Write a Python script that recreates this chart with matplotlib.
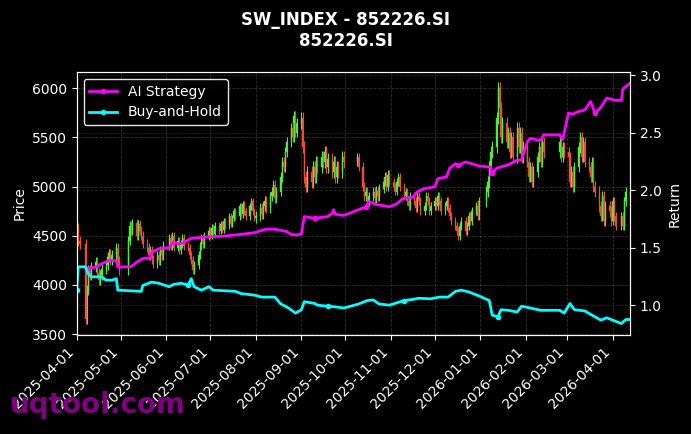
import matplotlib
matplotlib.use("Agg")
import matplotlib.pyplot as plt
import matplotlib.dates as mdates
import pandas as pd
import numpy as np

# ---------------- data ----------------
holidays = ["2025-04-04", "2025-05-01", "2025-05-02", "2025-05-05", "2025-06-02",
            "2025-10-01", "2025-10-02", "2025-10-03", "2025-10-06", "2025-10-07", "2025-10-08",
            "2026-01-01", "2026-01-02", "2026-02-16", "2026-02-17", "2026-02-18",
            "2026-02-19", "2026-02-20", "2026-02-23", "2026-04-06"]

close_2025_04 = [4580, 4450, 4420, 3650, 3950, 4150, 4100, 4180, 4230, 4120, 4050, 4100, 4160,
                 4200, 4280, 4320, 4250, 4300, 4380, 4240, 4150]
close_2025_05 = [4450, 4600, 4550, 4630, 4500, 4620, 4550, 4500, 4420, 4380, 4300, 4350, 4260,
                 4220, 4300, 4250, 4350, 4300, 4400]
close_2025_06 = [4480, 4400, 4500, 4380, 4450, 4350, 4420, 4480, 4400, 4380, 4300, 4250, 4150,
                 4200, 4300, 4400, 4480, 4420, 4500, 4550]
close_2025_07 = [4500, 4580, 4520, 4600, 4550, 4620, 4560, 4650, 4600, 4700, 4620, 4680, 4750,
                 4700, 4800, 4720, 4820, 4750, 4700, 4800, 4850, 4750, 4680]
close_2025_08 = [4700, 4780, 4720, 4800, 4850, 4780, 4900, 4950, 5020, 4880, 4950, 5100, 5250,
                 5200, 5350, 5450, 5600, 5500, 5720, 5550, 5650]
close_2025_09 = [5700, 5400, 5100, 5000, 5150, 5050, 5200, 5100, 5250, 5200, 5300, 5250, 5350,
                 5200, 5280, 5150, 5250, 5100, 5200, 5150, 5300, 5250]
close_2025_10 = [5300, 5200, 5000, 4900, 4950, 4850, 4900, 4950, 4880, 4960, 4900, 4980, 5050,
                 5100, 5000, 5120, 5050]
close_2025_11 = [5000, 4950, 5050, 5100, 5000, 4900, 4950, 4850, 4800, 4900, 4850, 4780, 4900,
                 4850, 4750, 4800, 4900, 4850, 4750, 4800]
close_2025_12 = [4850, 4800, 4900, 4850, 4750, 4800, 4850, 4780, 4700, 4650, 4600, 4550, 4500,
                 4600, 4650, 4550, 4600, 4700, 4650, 4750, 4800, 4700, 4850]
close_2026_01 = [4950, 5050, 5200, 5350, 5400, 5700, 6000, 5800, 5500, 5650, 5450, 5550, 5350,
                 5500, 5300, 5600, 5400, 5550, 5300, 5400]
close_2026_02 = [5250, 5100, 5200, 5050, 5150, 5300, 5400, 5250, 5450, 5350, 5450, 5300, 5400, 5350]
close_2026_03 = [5300, 5050, 5150, 5000, 5200, 5400, 5500, 5300, 5450, 5250, 5200, 5100, 5250,
                 5000, 4950, 4800, 4700, 4900, 4650, 4800, 4750, 4650]
close_2026_04 = [4850, 4700, 4600, 4700, 4600, 4850, 4950, 4900]

# typical wick length beyond the candle body, per month
wick_months = ["2025-04", "2025-05", "2025-06", "2025-07", "2025-08", "2025-09", "2025-10",
               "2025-11", "2025-12", "2026-01", "2026-02", "2026-03", "2026-04"]
wick_sizes = [50, 45, 40, 35, 50, 60, 45, 40, 40, 60, 55, 55, 45]

ai_dates = ["2025-04-08", "2025-04-14", "2025-04-18", "2025-04-21", "2025-04-23", "2025-04-28",
            "2025-04-29", "2025-05-08", "2025-05-12", "2025-05-16", "2025-05-21", "2025-05-22",
            "2025-05-27", "2025-06-03", "2025-06-06", "2025-06-10", "2025-06-13", "2025-06-18",
            "2025-06-25", "2025-07-10", "2025-07-22", "2025-07-31", "2025-08-08", "2025-08-14",
            "2025-08-22", "2025-08-25", "2025-08-29", "2025-09-01", "2025-09-03", "2025-09-10",
            "2025-09-19", "2025-09-22", "2025-09-23", "2025-09-24", "2025-09-30", "2025-10-10",
            "2025-10-15", "2025-10-17", "2025-10-22", "2025-10-31", "2025-11-05", "2025-11-09",
            "2025-11-16", "2025-11-19", "2025-11-23", "2025-12-01", "2025-12-03", "2025-12-09",
            "2025-12-11", "2025-12-15", "2025-12-17", "2025-12-22", "2025-12-31", "2026-01-08",
            "2026-01-09", "2026-01-12", "2026-01-20", "2026-01-26", "2026-01-29", "2026-02-02",
            "2026-02-04", "2026-02-11", "2026-02-13", "2026-02-24", "2026-02-26", "2026-03-02",
            "2026-03-05", "2026-03-08", "2026-03-13", "2026-03-17", "2026-03-20", "2026-03-24",
            "2026-03-28", "2026-04-03", "2026-04-07", "2026-04-08", "2026-04-13"]
ai_values = [1.318, 1.33, 1.36, 1.376, 1.39, 1.385,
             1.33, 1.335, 1.375, 1.405, 1.41, 1.46,
             1.49, 1.50, 1.55, 1.53, 1.545, 1.58,
             1.59, 1.60, 1.615, 1.63, 1.66, 1.66,
             1.64, 1.615, 1.61, 1.62, 1.77, 1.755,
             1.77, 1.80, 1.83, 1.79, 1.78, 1.83,
             1.855, 1.90, 1.875, 1.855, 1.88, 1.925,
             1.94, 1.985, 2.01, 2.03, 2.10, 2.115,
             2.19, 2.23, 2.215, 2.245, 2.21, 2.20,
             2.145, 2.19, 2.22, 2.26, 2.265, 2.42,
             2.45, 2.43, 2.48, 2.48, 2.44, 2.67,
             2.66, 2.68, 2.695, 2.77, 2.67, 2.72,
             2.80, 2.78, 2.78, 2.88, 2.93]

bh_dates = ["2025-04-01", "2025-04-02", "2025-04-07", "2025-04-09", "2025-04-11", "2025-04-18",
            "2025-04-21", "2025-04-25", "2025-04-28", "2025-04-29", "2025-05-15", "2025-05-16",
            "2025-05-22", "2025-05-27", "2025-06-03", "2025-06-06", "2025-06-11", "2025-06-16",
            "2025-06-18", "2025-06-20", "2025-06-25", "2025-06-30", "2025-07-03", "2025-07-18",
            "2025-07-22", "2025-07-31", "2025-08-05", "2025-08-14", "2025-08-18", "2025-08-22",
            "2025-08-26", "2025-08-28", "2025-09-01", "2025-09-03", "2025-09-10", "2025-09-12",
            "2025-09-19", "2025-09-24", "2025-09-30", "2025-10-10", "2025-10-16", "2025-10-20",
            "2025-10-24", "2025-10-31", "2025-11-05", "2025-11-10", "2025-11-16", "2025-11-20",
            "2025-11-28", "2025-12-04", "2025-12-10", "2025-12-15", "2025-12-19", "2025-12-24",
            "2025-12-31", "2026-01-07", "2026-01-09", "2026-01-13", "2026-01-15", "2026-01-20",
            "2026-01-26", "2026-01-29", "2026-02-04", "2026-02-11", "2026-02-24", "2026-02-27",
            "2026-03-03", "2026-03-06", "2026-03-13", "2026-03-17", "2026-03-24", "2026-03-28",
            "2026-04-01", "2026-04-07", "2026-04-10", "2026-04-13"]
bh_values = [1.13, 1.333, 1.333, 1.27, 1.246, 1.246,
             1.217, 1.217, 1.23, 1.13, 1.12, 1.17,
             1.20, 1.19, 1.16, 1.18, 1.19, 1.175,
             1.23, 1.16, 1.13, 1.16, 1.13, 1.12,
             1.10, 1.087, 1.07, 1.07, 1.01, 0.985,
             0.95, 0.93, 0.96, 1.03, 1.015, 1.00,
             0.99, 0.985, 0.975, 1.01, 1.04, 1.045,
             1.01, 1.00, 1.02, 1.04, 1.05, 1.06,
             1.055, 1.07, 1.07, 1.12, 1.13, 1.115,
             1.08, 1.04, 0.913, 0.90, 0.96, 0.955,
             0.94, 0.99, 0.975, 0.955, 0.955, 0.93,
             1.014, 0.96, 0.95, 0.92, 0.87, 0.89,
             0.87, 0.84, 0.875, 0.875]

title_text = "SW_INDEX - 852226.SI\n852226.SI"

# ---------------- build ----------------
closes = (close_2025_04 + close_2025_05 + close_2025_06 + close_2025_07 + close_2025_08 +
          close_2025_09 + close_2025_10 + close_2025_11 + close_2025_12 + close_2026_01 +
          close_2026_02 + close_2026_03 + close_2026_04)
days = pd.bdate_range("2025-04-01", "2026-04-13")
days = days[~days.isin(pd.to_datetime(holidays))]
n = min(len(days), len(closes))
days = days[:n]
c = np.array(closes[:n], dtype=float)
o = np.concatenate([[c[0]], c[:-1]])
wick_map = dict(zip(wick_months, wick_sizes))
wk = np.array([wick_map[d.strftime("%Y-%m")] for d in days], dtype=float)
body_top = np.maximum(o, c)
body_bot = np.minimum(o, c)
hi = body_top + wk
lo = body_bot - wk

plt.style.use("dark_background")
plt.rcParams["font.family"] = ["DejaVu Sans"]
fig = plt.figure(figsize=(6.91, 4.34), dpi=100)
ax = fig.add_axes([0.111, 0.228, 0.801, 0.606])
ax2 = ax.twinx()

up_col = "#4cf03c"
dn_col = "#f04a3c"
x = mdates.date2num(days.to_pydatetime())
up = c >= o
cols = np.where(up, up_col, dn_col)
ax.vlines(x, lo, hi, colors=cols, linewidth=0.8)
ax.bar(x, np.maximum(body_top - body_bot, 8), bottom=body_bot, width=0.7, color=cols,
       edgecolor=cols, linewidth=0.3)

ax.set_ylim(3490, 6165)
ax.set_xlim(x[0], x[-1])
ax.set_ylabel("Price", fontsize=10)
ax.grid(True, linestyle="--", color="#888888", alpha=0.35, linewidth=0.6)

ax2.plot(pd.to_datetime(ai_dates), ai_values, color="#ff00ff", linewidth=2.0,
         marker="o", markersize=3, markevery=[0, 29, 36, 50, 54, 70], label="AI Strategy")
ax2.plot(pd.to_datetime(bh_dates), bh_values, color="#00ffff", linewidth=2.0,
         marker="o", markersize=3, markevery=[0, 17, 36, 45, 57], label="Buy-and-Hold")
ax2.set_ylim(0.74, 3.026)
ax2.set_ylabel("Return", fontsize=10)
ax2.grid(True, linestyle="--", color="#888888", alpha=0.25, linewidth=0.6)
ax2.set_xlim(x[0], x[-1])

ax.xaxis.set_major_locator(mdates.MonthLocator())
ax.xaxis.set_major_formatter(mdates.DateFormatter("%Y-%m-%d"))
for lbl in ax.get_xticklabels():
    lbl.set_rotation(45)
    lbl.set_ha("right")
ax.tick_params(labelsize=10)
ax2.tick_params(labelsize=10)
for sp in list(ax.spines.values()) + list(ax2.spines.values()):
    sp.set_color("white")

leg = ax2.legend(loc="upper left", fontsize=10, facecolor="black", edgecolor="white",
                 framealpha=0.9)

fig.suptitle(title_text, fontsize=12, fontweight="bold", color="white", y=0.975)
fig.text(0.014, 0.035, "uqtool.com", fontsize=20, fontweight="bold", color="#800080",
         ha="left", va="bottom")

fig.savefig("out.png", dpi=100, facecolor="black")
